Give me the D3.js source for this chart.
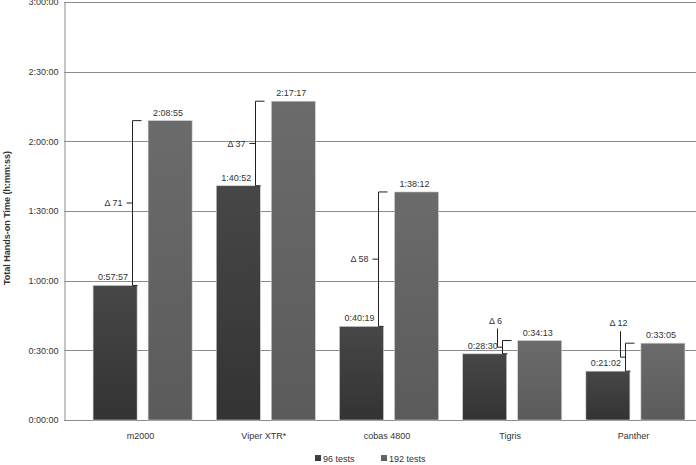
<!DOCTYPE html>
<html>
<head>
<meta charset="utf-8">
<script src="https://cdn.jsdelivr.net/npm/d3@7"></script>
<style>
  body { margin: 0; background: #fff; }
  svg { display: block; font-family: "Liberation Sans", Arial, sans-serif; }
  .axis text, .cat-label, .val-label, .delta-label, .legend text { fill: #333; font-size: 9px; }
  .axis-title { fill: #333; font-size: 9px; font-weight: bold; }
</style>
</head>
<body>
<svg id="chart"></svg>
<script>
// Data
const categories = ['m2000', 'Viper XTR*', 'cobas 4800', 'Tigris', 'Panther'];
const series = ['96 tests', '192 tests'];
const tests96 = ['0:57:57', '1:40:52', '0:40:19', '0:28:30', '0:21:02'];
const tests192 = ['2:08:55', '2:17:17', '1:38:12', '0:34:13', '0:33:05'];
const deltas = [71, 37, 58, 6, 12];
const yTicks = ['0:00:00', '0:30:00', '1:00:00', '1:30:00', '2:00:00', '2:30:00', '3:00:00'];

const toSec = s => {
  const p = s.split(':').map(Number);
  return p[0] * 3600 + p[1] * 60 + p[2];
};
const fmt = sec => {
  const h = Math.floor(sec / 3600), m = Math.floor(sec % 3600 / 60), s = sec % 60;
  return `${h}:${String(m).padStart(2, '0')}:${String(s).padStart(2, '0')}`;
};

const data = categories.map((c, i) => ({
  cat: c,
  values: [
    { key: series[0], label: tests96[i], v: toSec(tests96[i]) },
    { key: series[1], label: tests192[i], v: toSec(tests192[i]) }
  ],
  delta: deltas[i]
}));

const width = 696, height = 465;
const svg = d3.select('#chart').attr('width', width).attr('height', height);

// Scales
const y = d3.scaleLinear().domain([0, toSec('3:00:00')]).range([420, 2]);
const x0 = d3.scaleBand().domain(categories).range([81, 697])
  .paddingInner(0.196).paddingOuter(0.098);
const x1 = d3.scaleBand().domain(series).range([0, x0.bandwidth()]).paddingInner(0.2);
const colors = { '96 tests': 'g96', '192 tests': 'g192' };

// Gradients for bars
const defs = svg.append('defs');
[['g96', '#474747', '#333333'], ['g192', '#6b6b6b', '#5b5b5b']].forEach(([id, top, bot]) => {
  const g = defs.append('linearGradient').attr('id', id)
    .attr('x1', 0).attr('y1', 0).attr('x2', 0).attr('y2', 1);
  g.append('stop').attr('offset', '0%').attr('stop-color', top);
  g.append('stop').attr('offset', '100%').attr('stop-color', bot);
});

// Grid lines
svg.append('g')
  .selectAll('line')
  .data(yTicks.map(toSec))
  .join('line')
  .attr('x1', 64).attr('x2', width)
  .attr('y1', d => Math.round(y(d)) + 0.5).attr('y2', d => Math.round(y(d)) + 0.5)
  .attr('stroke', '#8c8c8c');

// Y axis
const yAxisG = svg.append('g')
  .attr('class', 'axis')
  .attr('transform', 'translate(64.5,0)')
  .call(d3.axisLeft(y).tickValues(yTicks.map(toSec)).tickFormat(fmt).tickSize(0).tickPadding(6));
yAxisG.select('.domain').attr('stroke', '#8c8c8c');
yAxisG.selectAll('text').attr('font-family', null).attr('font-size', null);

svg.append('text')
  .attr('class', 'axis-title')
  .attr('transform', 'translate(10,218) rotate(-90)')
  .attr('text-anchor', 'middle')
  .text('Total Hands-on Time (h:mm:ss)');

// Bars
const groups = svg.append('g').selectAll('g')
  .data(data)
  .join('g')
  .attr('transform', d => `translate(${x0(d.cat)},0)`);

groups.selectAll('rect')
  .data(d => d.values)
  .join('rect')
  .attr('x', d => x1(d.key))
  .attr('y', d => y(d.v))
  .attr('width', x1.bandwidth())
  .attr('height', d => y(0) - y(d.v))
  .attr('fill', d => `url(#${colors[d.key]})`)
  .attr('stroke', '#d0d0d0')
  .attr('stroke-width', 0.6);

groups.selectAll('.val-label')
  .data(d => d.values)
  .join('text')
  .attr('class', 'val-label')
  .attr('x', d => x1(d.key) + x1.bandwidth() / 2 - 2)
  .attr('y', d => y(d.v) - 5)
  .attr('text-anchor', 'middle')
  .text(d => d.label);

// Delta brackets
const brackets = svg.append('g').attr('stroke', '#222').attr('fill', 'none');
data.forEach(d => {
  const bx = Math.round(x0(d.cat) + x1(series[0]) + x1.bandwidth() - 5) + 0.5;
  const yTop = y(d.values[1].v), yBot = y(d.values[0].v);
  const mid = (yTop + yBot) / 2;
  brackets.append('path')
    .attr('d', `M${bx + 9},${yTop}H${bx}V${yBot}H${bx + 5}`);
  if (yBot - yTop > 40) {
    brackets.append('path').attr('d', `M${bx},${mid}H${bx - 6}`);
    svg.append('text')
      .attr('class', 'delta-label')
      .attr('x', bx - 10)
      .attr('y', mid)
      .attr('dy', '0.35em')
      .attr('text-anchor', 'end')
      .text(`Δ ${d.delta}`);
  } else {
    const lx = bx - 5;
    const topY = yTop - 12;
    brackets.append('path').attr('d', `M${bx},${mid}H${lx}V${topY}`);
    svg.append('text')
      .attr('class', 'delta-label')
      .attr('x', lx - 2)
      .attr('y', topY - 5)
      .attr('text-anchor', 'middle')
      .text(`Δ ${d.delta}`);
  }
});

// Category labels
svg.append('g').selectAll('text')
  .data(categories)
  .join('text')
  .attr('class', 'cat-label')
  .attr('x', d => x0(d) + x0.bandwidth() / 2 - 2)
  .attr('y', 439)
  .attr('text-anchor', 'middle')
  .text(d => d);

// Legend
const legend = svg.append('g').attr('class', 'legend');
const legendX = [315, 381];
series.forEach((s, i) => {
  const g = legend.append('g').attr('transform', `translate(${legendX[i]},0)`);
  g.append('rect').attr('x', 0).attr('y', 455).attr('width', 6).attr('height', 6)
    .attr('fill', `url(#${colors[s]})`);
  g.append('text').attr('x', 8).attr('y', 462).text(s);
});
</script>
</body>
</html>
